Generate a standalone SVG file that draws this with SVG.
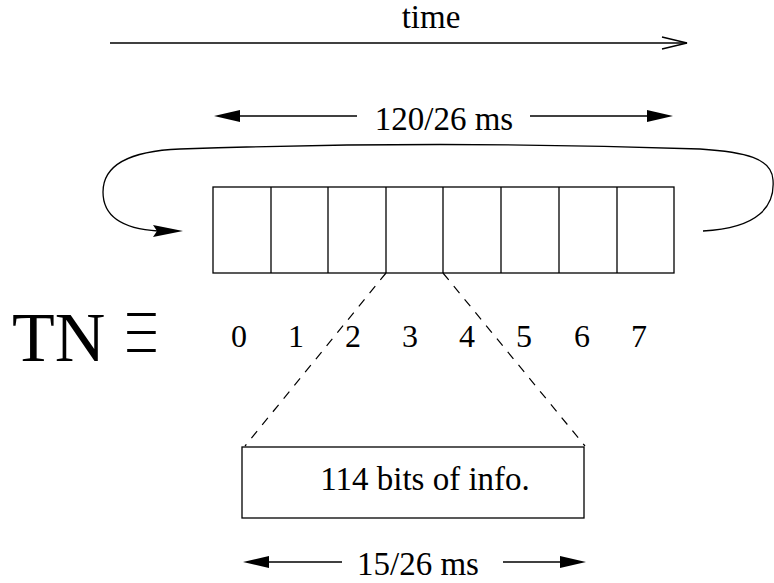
<svg xmlns="http://www.w3.org/2000/svg" width="774" height="583" viewBox="0 0 774 583">
<style>
text{font-family:"Liberation Serif","Times New Roman",serif;fill:#000}
.t{font-size:33px;text-anchor:middle}
.d{font-size:32px;text-anchor:middle}
.ln{fill:none;stroke:#000;stroke-width:1.3}
.dash{fill:none;stroke:#000;stroke-width:1.2;stroke-dasharray:9 8}
.ah{fill:#000;stroke:none}
</style>
<rect width="774" height="583" fill="#fff"/>
<g id="connectors">
  <line class="ln" x1="110" y1="43" x2="687" y2="43"/>
  <polyline class="ln" points="662,37 687,43 662,49"/>
  <line class="ln" x1="238" y1="116" x2="357" y2="116"/>
  <line class="ln" x1="530" y1="116" x2="648" y2="116"/>
  <polygon class="ah" points="214,116 240,110 240,122"/>
  <polygon class="ah" points="673,116 647,110 647,122"/>
  <path class="ln" d="M703,231 C760,228 775,205 773,180 C772,158 745,152 700,149 Q440,140 180,149 C130,151 103,165 103,192 C103,218 125,229 158,231"/>
  <polygon class="ah" points="183,231 153,225 157,231 153,237"/>
  <line class="dash" x1="386" y1="273" x2="245" y2="446"/>
  <line class="dash" x1="443" y1="273" x2="585" y2="446"/>
  <line class="ln" x1="266" y1="562" x2="342" y2="562"/>
  <line class="ln" x1="503" y1="562" x2="562" y2="562"/>
  <polygon class="ah" points="243,562 269,556 269,568"/>
  <polygon class="ah" points="586,562 560,556 560,568"/>
</g>
<g id="time-label"><text class="t" x="431" y="28">time</text></g>
<g id="frame-duration"><text class="t" x="444" y="130">120/26 ms</text></g>
<g id="frame">
  <rect class="ln" x="213" y="187" width="461" height="86"/>
  <line class="ln" x1="271" y1="187" x2="271" y2="273"/>
  <line class="ln" x1="328" y1="187" x2="328" y2="273"/>
  <line class="ln" x1="386" y1="187" x2="386" y2="273"/>
  <line class="ln" x1="443" y1="187" x2="443" y2="273"/>
  <line class="ln" x1="501" y1="187" x2="501" y2="273"/>
  <line class="ln" x1="559" y1="187" x2="559" y2="273"/>
  <line class="ln" x1="617" y1="187" x2="617" y2="273"/>
</g>
<g id="tn-label">
  <text x="12" y="361" style="font-size:70px">TN</text>
  <text x="141.5" y="350" transform="matrix(0.8 0 0 1.7 28.3 -232.05)" style="font-family:'Noto Sans CJK JP',sans-serif;font-weight:100;font-size:48px;text-anchor:middle">≡</text>
</g>
<g id="slot-numbers">
  <text class="d" x="239" y="347">0</text>
  <text class="d" x="296" y="347">1</text>
  <text class="d" x="353" y="347">2</text>
  <text class="d" x="410" y="347">3</text>
  <text class="d" x="467" y="347">4</text>
  <text class="d" x="524" y="347">5</text>
  <text class="d" x="582" y="347">6</text>
  <text class="d" x="639" y="347">7</text>
</g>
<g id="burst">
  <rect class="ln" x="242" y="447" width="342" height="71"/>
  <text class="t" x="425" y="490">114 bits of info.</text>
</g>
<g id="burst-duration"><text class="t" x="418" y="575">15/26 ms</text></g>
</svg>
